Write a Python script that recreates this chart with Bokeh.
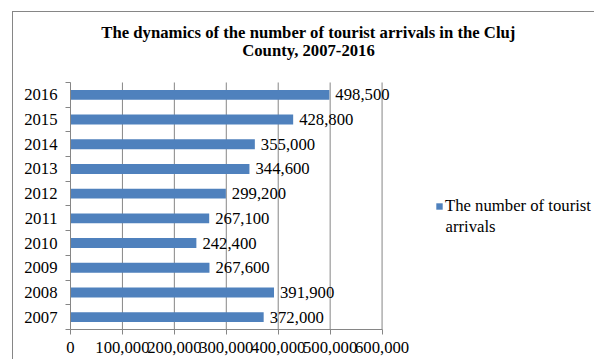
from bokeh.plotting import figure
from bokeh.models import (ColumnDataSource, Range1d, FixedTicker, LinearAxis,
                          NumeralTickFormatter, LabelSet, Label, Legend, LegendItem)
from bokeh.embed import file_html
from bokeh.resources import INLINE

# ---- data ----
years = ["2007", "2008", "2009", "2010", "2011", "2012", "2013", "2014", "2015", "2016"]
arrivals = [372000, 391900, 267600, 242400, 267100, 299200, 344600, 355000, 428800, 498500]
x_ticks = [0, 100000, 200000, 300000, 400000, 500000, 600000]
title_lines = ["The dynamics of the number of tourist arrivals in the Cluj", "County, 2007-2016"]
legend_lines = ["The number of tourist", "arrivals"]

FONT = "Liberation Serif"
FS = "16.7px"
GRAY = "#868686"
BLUE = "#4F81BD"

n = len(years)
centres = [i + 0.5 for i in range(n)]          # category centres
bounds = [float(i) for i in range(n + 1)]      # category boundaries

src = ColumnDataSource(dict(
    pos=centres,
    year=years,
    value=arrivals,
    label=[f"{v:,}" for v in arrivals],
))

# frame covers the whole chart area so nothing gets clipped
X_END = 1011000     # 600,000 sits at 311.5px of a 525px-wide frame
Y_END = 12.834      # 10 categories take 247px of a 317px-high frame

p = figure(width=582, height=348, output_backend="svg", toolbar_location=None,
           x_range=Range1d(0, X_END), y_range=Range1d(0, Y_END),
           y_axis_type=None, title=None,
           min_border_left=57, min_border_top=0, min_border_right=0, min_border_bottom=31)
p.styles = {"margin-left": "12px", "margin-top": "11px",
            "border-left": "1px solid #868686", "border-top": "1px solid #868686"}
p.outline_line_color = None
p.xgrid.grid_line_color = None
p.ygrid.grid_line_color = None

# vertical gridlines at the x ticks, limited to the category area
p.segment(x0=x_ticks, x1=x_ticks, y0=bounds[0], y1=bounds[-1],
          line_color=GRAY, line_width=1)

bars = p.hbar(y="pos", right="value", left=0, height=0.4, source=src,
              fill_color=BLUE, line_color=None)

p.add_layout(LabelSet(x="value", y="pos", text="label", source=src, x_offset=6,
                      text_baseline="middle", text_font=FONT, text_font_size=FS,
                      text_color="black"))

# x axis
p.xaxis.ticker = FixedTicker(ticks=x_ticks)
p.xaxis.bounds = (x_ticks[0], x_ticks[-1])
p.xaxis.formatter = NumeralTickFormatter(format="0,0")
p.xaxis.axis_line_color = GRAY
p.xaxis.major_tick_line_color = GRAY
p.xaxis.major_tick_out = 5
p.xaxis.major_tick_in = 0
p.xaxis.minor_tick_line_color = None
p.xaxis.major_label_standoff = 7
p.xaxis.major_label_text_font = FONT
p.xaxis.major_label_text_font_size = FS
p.xaxis.major_label_text_color = "black"

# y axis: year labels at category centres, short ticks at category boundaries
yaxis = LinearAxis(ticker=FixedTicker(ticks=centres, minor_ticks=bounds),
                   bounds=(bounds[0], bounds[-1]),
                   major_label_overrides={c: y for c, y in zip(centres, years)},
                   axis_line_color=GRAY, major_tick_line_color=None,
                   major_tick_out=0, major_tick_in=0,
                   minor_tick_line_color=GRAY, minor_tick_out=5, minor_tick_in=0,
                   major_label_standoff=8, major_label_text_font=FONT,
                   major_label_text_font_size=FS, major_label_text_color="black")
p.add_layout(yaxis, "left")

# title
for i, t in enumerate(title_lines):
    p.add_layout(Label(x=238, y=297.2 - 18.4 * i, x_units="screen", y_units="screen",
                       text=t, text_align="center", text_baseline="alphabetic",
                       text_font=FONT, text_font_size=FS, text_font_style="bold",
                       text_color="black"))

# legend (wrapped label: first line in the legend, second line below it)
legend = Legend(items=[LegendItem(label=legend_lines[0], renderers=[bars])],
                location=(365, 113), orientation="vertical",
                glyph_width=8, glyph_height=8, label_standoff=2, label_height=20,
                padding=0, margin=0, spacing=0,
                border_line_color=None, background_fill_alpha=0,
                label_text_font=FONT, label_text_font_size=FS,
                label_text_color="black")
p.add_layout(legend)
p.add_layout(Label(x=375, y=103.5, x_units="screen", y_units="screen",
                   text=legend_lines[1], text_baseline="alphabetic",
                   text_font=FONT, text_font_size=FS, text_color="black"))

open("out.html", "w").write(file_html(p, INLINE))
